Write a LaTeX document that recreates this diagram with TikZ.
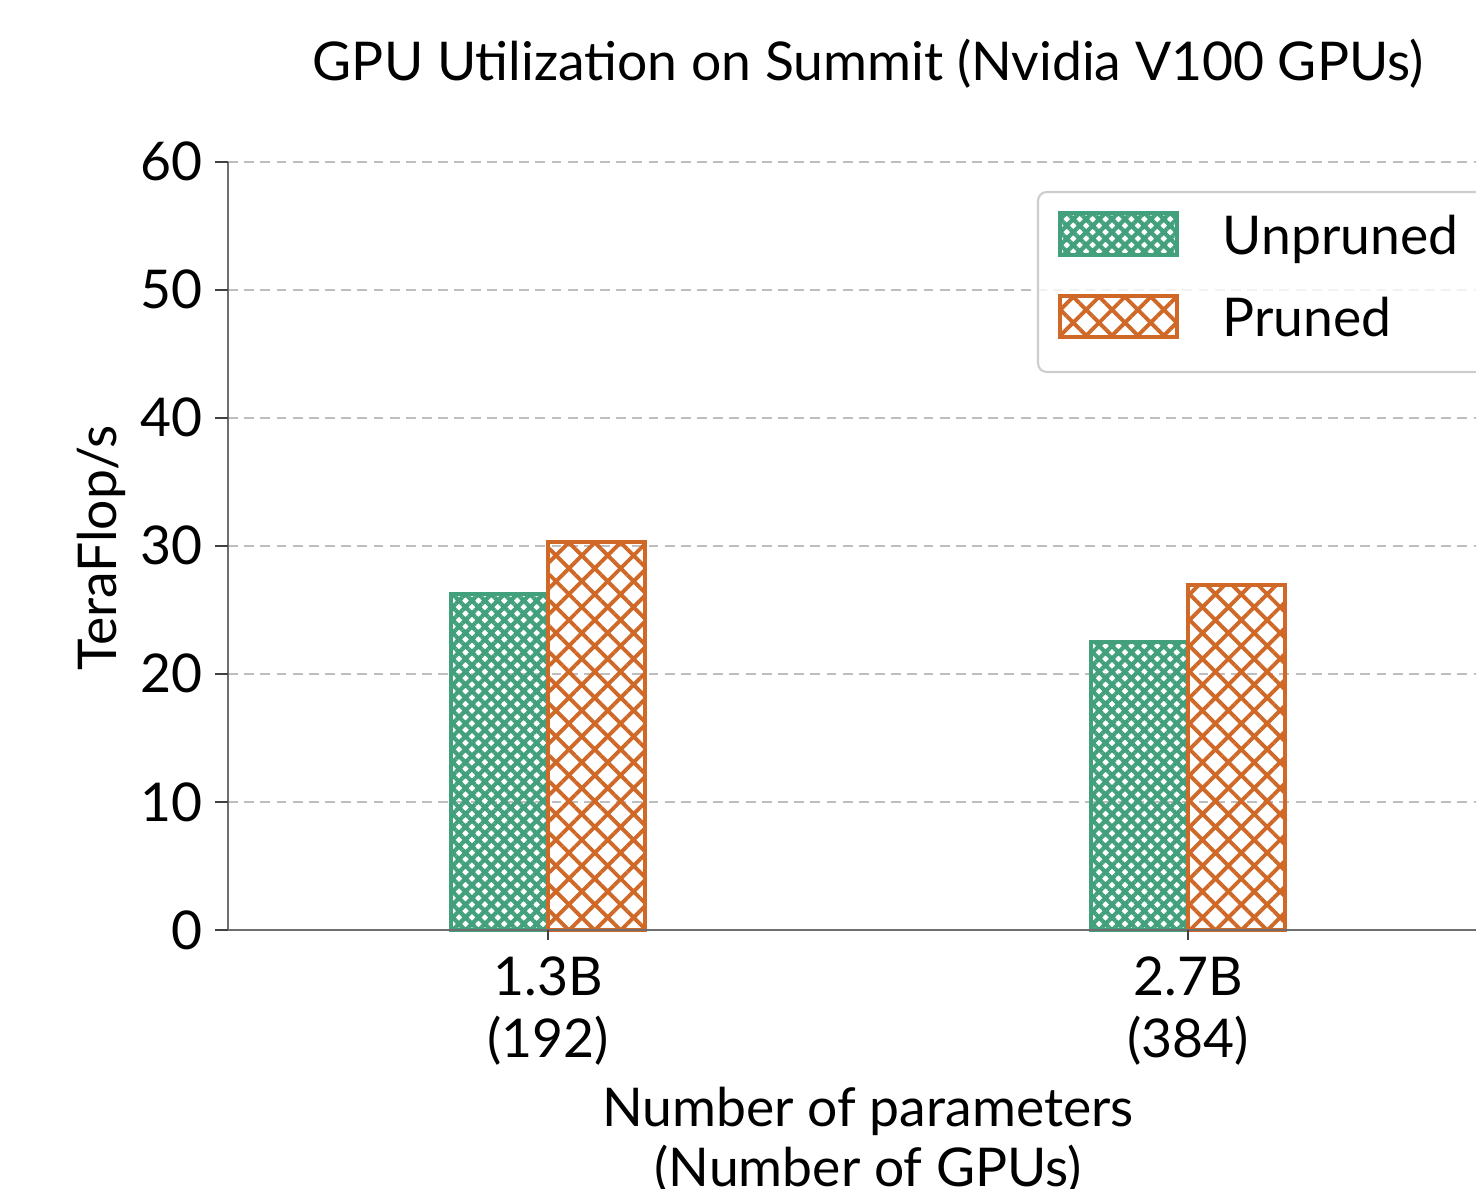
\documentclass[tikz,border=0pt]{standalone}
\usepackage{fontspec}
\setmainfont{Lato}
\usetikzlibrary{patterns.meta}
\definecolor{unpruned}{RGB}{66,160,124}
\definecolor{pruned}{RGB}{208,104,40}
\definecolor{spine}{RGB}{110,110,110}
\definecolor{gridc}{RGB}{190,190,190}
\definecolor{legframe}{RGB}{205,205,205}
\tikzset{
  lbl/.style={font=\fontsize{15.2}{18}\selectfont, inner sep=0pt},
  gridline/.style={gridc, line width=0.55pt, dash pattern=on 2.8pt off 1.8pt},
  spineline/.style={spine, line width=0.7pt},
  tickline/.style={black!75, line width=0.7pt},
  unbar/.style={draw=unpruned, line width=1pt,
    pattern={Hatch[angle=45, distance=2.6pt, line width=1.2pt]}, pattern color=unpruned},
  prbar/.style={draw=pruned, line width=1pt,
    pattern={Hatch[angle=45, distance=5.2pt, line width=1.1pt]}, pattern color=pruned},
}
\begin{document}
\begin{tikzpicture}[x=0.01cm, y=-0.01cm]
\useasboundingbox (0,0) rectangle (1476,1189);
\clip (0,0) rectangle (1476,1189);

% horizontal grid lines
\foreach \v in {10,20,...,60}
  \draw[gridline] (228,{930-12.8*\v}) -- (1476,{930-12.8*\v});

% bars: 1.3B (192 GPUs) and 2.7B (384 GPUs)
\draw[unbar] (451,930) rectangle (548,{930-12.8*26.25});
\draw[prbar] (548,930) rectangle (645,{930-12.8*30.3});
\draw[unbar] (1091,930) rectangle (1188,{930-12.8*22.5});
\draw[prbar] (1188,930) rectangle (1285,{930-12.8*26.95});

% axes
\coordinate (origin) at (228,930);
\coordinate (ytop) at (228,162);
\coordinate (xend) at (1476,930);
\draw[spineline] (ytop) -- (origin) -- (xend);

% y ticks and labels
\foreach \v in {0,10,...,60} {
  \coordinate (yt\v) at (228,{930-12.8*\v});
  \draw[tickline] (yt\v) -- ++(-13,0);
  \node[lbl, anchor=base east] (ylab\v) at (203,{930-12.8*\v+19}) {\v};
}

% x ticks and labels
\coordinate (xt1) at (548,930);
\coordinate (xt2) at (1188,930);
\draw[tickline] (xt1) -- ++(0,10);
\draw[tickline] (xt2) -- ++(0,10);
\node[lbl, anchor=base] (xa1) at (548,995) {1.3B};
\node[lbl, anchor=base] (xb1) at (548,1057) {(192)};
\node[lbl, anchor=base] (xa2) at (1188,995) {2.7B};
\node[lbl, anchor=base] (xb2) at (1188,1057) {(384)};

% axis titles
\node[lbl, anchor=base] (xtitle1) at (868,1126) {Number of parameters};
\node[lbl, anchor=base] (xtitle2) at (868,1186) {(Number of GPUs)};
\node[lbl, anchor=base, rotate=90] (ytitle) at (116,548) {TeraFlop/s};

% chart title
\node[lbl, anchor=base] (title) at (868,81) {GPU Utilization on Summit (Nvidia V100 GPUs)};

% legend
\draw[legframe, line width=0.6pt, fill=white, fill opacity=0.8, rounded corners=2.5pt]
  (1038,192) rectangle (1520,372);
\draw[unbar] (1060,213) rectangle (1177,255);
\draw[prbar] (1060,296) rectangle (1177,337);
\node[lbl, anchor=base west] (legun) at (1222,255) {Unpruned};
\node[lbl, anchor=base west] (legpr) at (1222,337) {Pruned};
\end{tikzpicture}
\end{document}
